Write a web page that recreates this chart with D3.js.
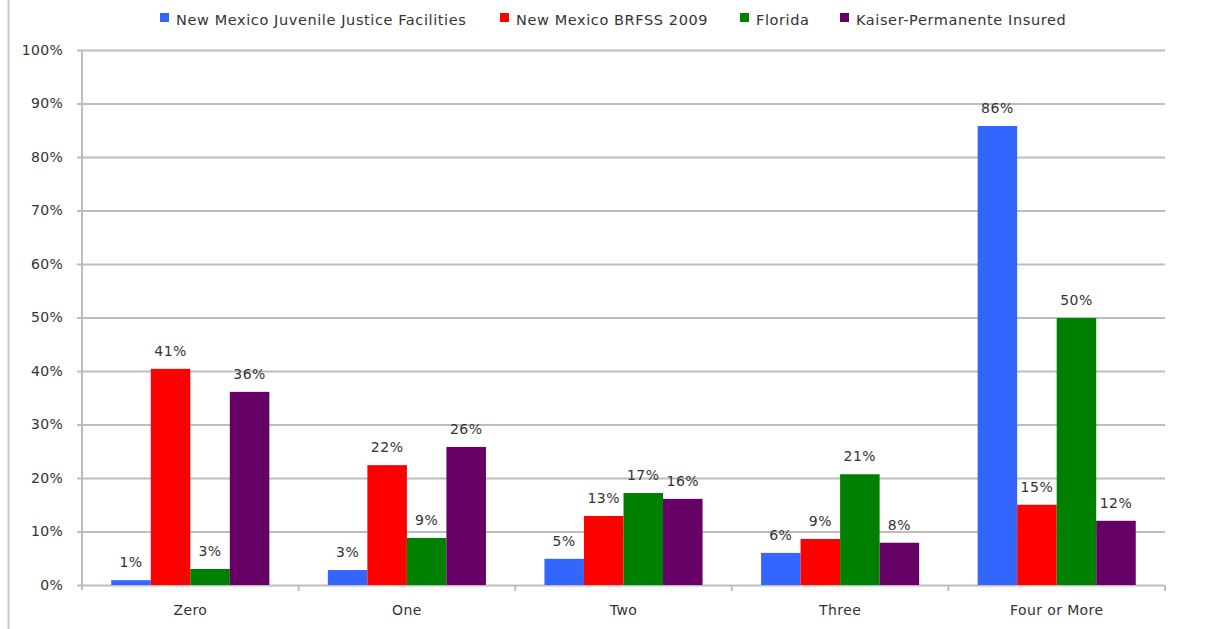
<!DOCTYPE html>
<html><head><meta charset="utf-8">
<script src="https://cdn.jsdelivr.net/npm/d3@7"></script>
<style>body{margin:0;background:#fff;} text{font-family:"DejaVu Sans",Verdana,sans-serif;fill:#333;}</style>
</head><body>
<svg id="c" width="1232" height="629"></svg>
<script>
const categories = ["Zero","One","Two","Three","Four or More"];
const seriesNames = ["New Mexico Juvenile Justice Facilities","New Mexico BRFSS 2009","Florida","Kaiser-Permanente Insured"];
const seriesColors = ["#3366ff","#ff0000","#008000","#660066"];
const nmJuvenile = [0.9, 2.8, 4.9, 6.0, 85.8];
const nmBrfss = [40.4, 22.4, 12.9, 8.6, 15.0];
const florida = [3.0, 8.8, 17.2, 20.7, 49.9];
const kaiser = [36.1, 25.8, 16.1, 7.9, 12.0];
const nmJuvenileLabels = ["1%","3%","5%","6%","86%"];
const nmBrfssLabels = ["41%","22%","13%","9%","15%"];
const floridaLabels = ["3%","9%","17%","21%","50%"];
const kaiserLabels = ["36%","26%","16%","8%","12%"];
const yTicks = [0,10,20,30,40,50,60,70,80,90,100];

const series = [nmJuvenile, nmBrfss, florida, kaiser];
const labels = [nmJuvenileLabels, nmBrfssLabels, floridaLabels, kaiserLabels];

const svg = d3.select("#c");
const L = 82, R = 1165, T = 50, B = 585;
const x = d3.scaleBand().domain(categories).range([L, R]).paddingInner(0).paddingOuter(0);
const x1 = d3.scaleBand().domain(d3.range(4)).range([0, x.bandwidth()]).paddingInner(0).paddingOuter(0.74);
const y = d3.scaleLinear().domain([0, 100]).range([B, T]);

// left border line
svg.append("line").attr("x1",8.5).attr("x2",8.5).attr("y1",0).attr("y2",629).attr("stroke","#c8c8c8").attr("stroke-width",2);

// grid + y axis
const yAxis = d3.axisLeft(y).tickValues(yTicks).tickFormat(d => d + "%").tickSize(-(R - L)).tickPadding(19);
const gy = svg.append("g").attr("transform", `translate(${L},0)`).call(yAxis);
gy.select(".domain").remove();
gy.selectAll(".tick line").attr("stroke","#bdbdbd").attr("stroke-width",2).attr("x1",-5).attr("x2",R-L);
gy.selectAll(".tick text").attr("font-size",14).attr("letter-spacing","0.3px").attr("fill","#333").attr("font-family","DejaVu Sans, sans-serif");
svg.append("line").attr("x1",L).attr("x2",L).attr("y1",T).attr("y2",B+5).attr("stroke","#bdbdbd").attr("stroke-width",2);

// x axis
const xAxis = d3.axisBottom(x).tickSize(0).tickPadding(20);
const gx = svg.append("g").attr("transform", `translate(0,${B})`).call(xAxis);
gx.select(".domain").remove();
gx.selectAll(".tick text").attr("font-size",14).attr("letter-spacing","0.4px").attr("fill","#333").attr("font-family","DejaVu Sans, sans-serif");
categories.forEach(c => {
  const xe = x(c) + x.bandwidth();
  svg.append("line").attr("x1",xe).attr("x2",xe).attr("y1",B).attr("y2",B+6).attr("stroke","#bdbdbd").attr("stroke-width",2);
});

// bars
series.forEach((vals, si) => {
  const g = svg.append("g");
  g.selectAll("rect").data(vals).join("rect")
    .attr("x", (d,i) => x(categories[i]) + x1(si))
    .attr("width", x1.bandwidth())
    .attr("y", d => y(d))
    .attr("height", d => B - y(d))
    .attr("fill", seriesColors[si]);
  g.selectAll("text").data(vals).join("text")
    .attr("x", (d,i) => x(categories[i]) + x1(si) + x1.bandwidth()/2)
    .attr("y", d => y(d) - 13)
    .attr("text-anchor","middle")
    .attr("font-size",14)
    .attr("letter-spacing","0.5px")
    .text((d,i) => labels[si][i]);
});

// legend
const legendX = [160, 500, 740, 840];
seriesNames.forEach((n, i) => {
  svg.append("rect").attr("x", legendX[i]).attr("y", 13).attr("width", 9).attr("height", 9).attr("fill", seriesColors[i]);
  svg.append("text").attr("x", legendX[i] + 16).attr("y", 25).attr("font-size", 14.5).attr("letter-spacing","0.6px").text(n);
});
</script>
</body></html>
